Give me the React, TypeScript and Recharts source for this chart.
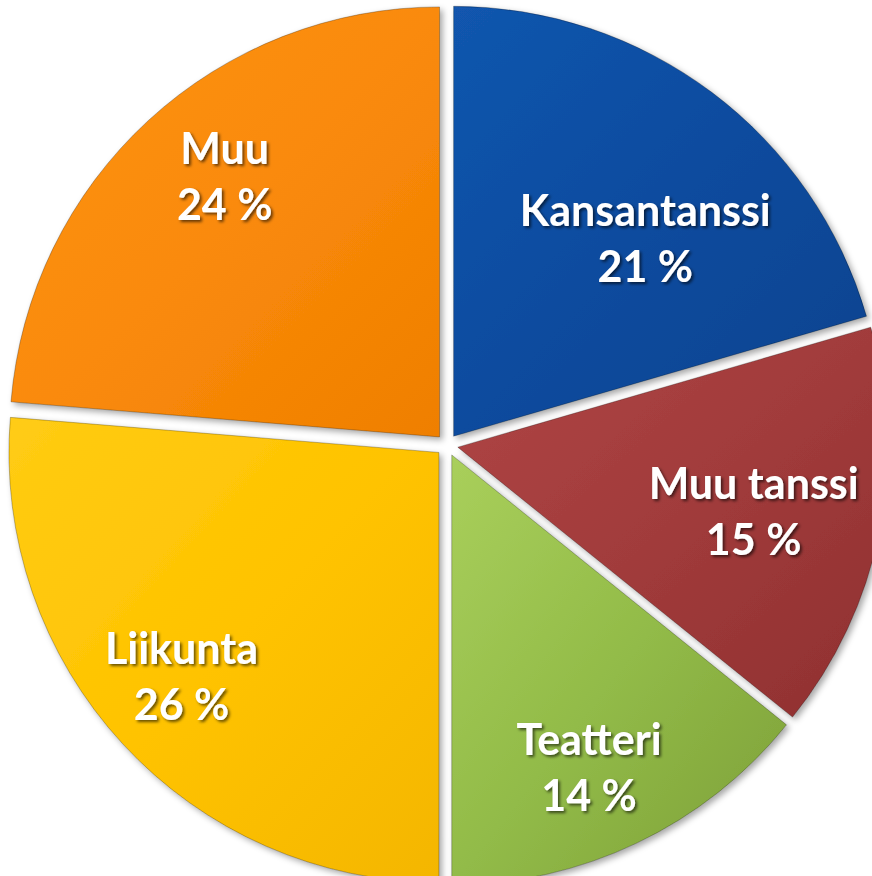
import { PieChart, Pie, Sector } from 'recharts';

const categories = ['Kansantanssi', 'Muu tanssi', 'Teatteri', 'Liikunta', 'Muu'];
const shares = [20.5, 15.3, 14.2, 26.3, 23.7];

const palette = [
  ['#1256ae', '#0a4b9e', '#08428e'],
  ['#b04646', '#a13b3b', '#8f3030'],
  ['#a9cf5b', '#92bb48', '#7d9f38'],
  ['#ffcc14', '#ffc300', '#f4b600'],
  ['#fd9418', '#fa8a0a', '#ef7f00'],
];

// label nudges: [radius factor, angle shift in degrees]
const labelPlace: Record<string, [number, number]> = {
  Kansantanssi: [0.665, -7],
  'Muu tanssi': [0.73, -1],
  Teatteri: [0.82, -1.8],
  Liikunta: [0.82, -1.5],
  Muu: [0.81, -3],
};

const data = categories.map((name, i) => ({ name, value: shares[i], fill: `url(#grad${i})` }));

const RAD = Math.PI / 180;
const EXPLODE = 11;

const ExplodedSlice = (props: any) => {
  const { cx, cy, midAngle } = props;
  const dx = EXPLODE * Math.cos(-midAngle * RAD);
  const dy = EXPLODE * Math.sin(-midAngle * RAD);
  return (
    <g filter="url(#sliceShadow)">
      <Sector {...props} cx={cx + dx} cy={cy + dy} stroke="rgba(0,0,0,0.25)" strokeWidth={1} />
    </g>
  );
};

const renderLabel = (props: any) => {
  const { cx, cy, midAngle, outerRadius, name, value } = props;
  const [f, shift] = labelPlace[name] || [0.8, 0];
  const a = -(midAngle + shift) * RAD;
  const x = cx + outerRadius * f * Math.cos(a);
  const y = cy + outerRadius * f * Math.sin(a);
  return (
    <text
      x={x}
      y={y}
      textAnchor="middle"
      fill="#fff"
      fontFamily="Lato, 'Open Sans', sans-serif"
      fontWeight={700}
      fontSize={43}
      filter="url(#textShadow)"
    >
      <tspan x={x} y={y - 13}>{name}</tspan>
      <tspan x={x} y={y + 43}>{`${Math.round(value)} %`}</tspan>
    </text>
  );
};

export default function App() {
  return (
    <div style={{ position: 'absolute', left: 0, top: 0, width: 872, height: 876, background: '#fff' }}>
      <svg width={0} height={0} style={{ position: 'absolute' }}>
        <defs>
          {palette.map((c, i) => (
            <linearGradient key={i} id={`grad${i}`} x1="0" y1="0" x2="1" y2="1">
              <stop offset="0%" stopColor={c[0]} />
              <stop offset="50%" stopColor={c[1]} />
              <stop offset="100%" stopColor={c[2]} />
            </linearGradient>
          ))}
          <filter id="sliceShadow" x="-10%" y="-10%" width="120%" height="120%">
            <feDropShadow dx="3" dy="3" stdDeviation="3" floodColor="#000" floodOpacity="0.35" />
          </filter>
          <filter id="textShadow" x="-10%" y="-20%" width="120%" height="140%">
            <feDropShadow dx="2" dy="2" stdDeviation="1.5" floodColor="#000" floodOpacity="0.6" />
          </filter>
        </defs>
      </svg>
      <PieChart width={872} height={876}>
        <Pie
          data={data}
          dataKey="value"
          nameKey="name"
          cx={442}
          cy={440}
          outerRadius={430}
          startAngle={90}
          endAngle={-270}
          stroke="none"
          shape={ExplodedSlice}
          activeShape={ExplodedSlice}
          inactiveShape={ExplodedSlice}
          label={renderLabel}
          labelLine={false}
          isAnimationActive={false}
        />
      </PieChart>
    </div>
  );
}
